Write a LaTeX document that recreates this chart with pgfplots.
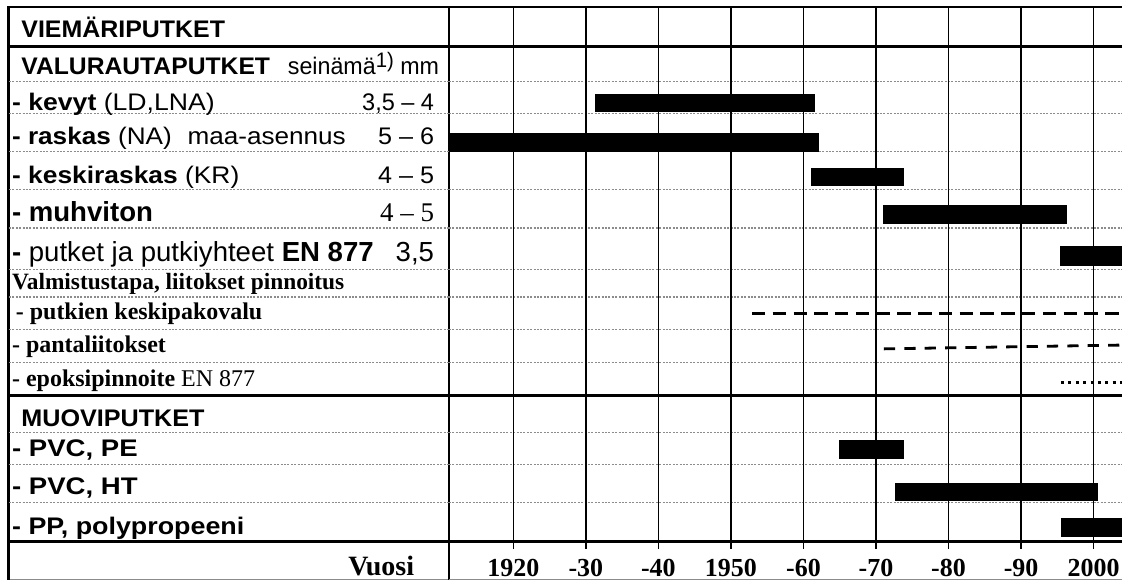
\documentclass[border=0pt]{standalone}
\usepackage{pgfplots}
\pgfplotsset{compat=1.18}
\usepackage{fontspec}
\setmainfont{Liberation Serif}
\newfontfamily\arial{Liberation Sans}
\begin{document}
\begin{tikzpicture}
\pgfplotsset{
  base/.style={scale only axis, hide axis, height=291.5pt, ymin=0, ymax=583,
    y dir=reverse, clip=false, anchor=south west},
}
\tikzset{
  sep/.style={black!45, line width=0.6pt, dash pattern=on 1pt off 0.7pt},
  thk/.style={black, line width=1.3pt},
  vl/.style={black, line width=0.8pt},
  A/.style={anchor=base west, inner sep=0pt, font=\arial\fontsize{12}{14}\selectfont},
  Ae/.style={anchor=base east, inner sep=0pt, font=\arial\fontsize{12}{14}\selectfont},
  AL/.style={anchor=base west, inner sep=0pt, font=\arial\fontsize{13.8}{15}\selectfont},
  ALe/.style={anchor=base east, inner sep=0pt, font=\arial\fontsize{13.8}{15}\selectfont},
  T/.style={anchor=base west, inner sep=0pt, font=\fontsize{12}{14}\selectfont},
  TK/.style={anchor=base, inner sep=0pt, font=\bfseries\fontsize{13}{15}\selectfont},
}
\path (0,0) rectangle (561.5pt,291.5pt);
% ---------------- left label column ----------------
\begin{axis}[base, at={(0,0)}, width=224.65pt, xmin=0, xmax=449.3]
  \draw[black!45, line width=0.6pt] (axis cs:7.3,580) -- (axis cs:449.3,580);
  \draw[line width=1pt] (axis cs:7.3,7.3) -- (axis cs:449.3,7.3);
  \draw[line width=1.5pt] (axis cs:8.3,6.5) -- (axis cs:8.3,581);
  \draw[vl] (axis cs:449.3,7.3) -- (axis cs:449.3,581);
  \pgfplotsinvokeforeach{46.7,396,542.3}{\draw[thk] (axis cs:7.3,#1) -- (axis cs:449.3,#1);}
  \pgfplotsinvokeforeach{81.7,113.3,151.7,190,228.3,270,297.3,330,363.3,433.3,465,503.3}
    {\draw[sep] (axis cs:9,#1) -- (axis cs:449.3,#1);}
  % labels
  \node[A, xscale=1.04] at (axis cs:21,37.3) {\bfseries VIEMÄRIPUTKET};
  \node[A, xscale=1.03] at (axis cs:21,75) {\bfseries VALURAUTAPUTKET};
  \node[Ae, xscale=0.97] at (axis cs:440,75) {seinämä\raisebox{0.55ex}{\fontsize{10.5}{11}\selectfont 1)} mm};
  \node[A, xscale=1.11] at (axis cs:11.7,111) {\textbf{- kevyt} (LD,LNA)};
  \node[Ae, xscale=0.98] at (axis cs:435,111) {3,5 – 4};
  \node[A, xscale=1.09] at (axis cs:11.7,145) {\textbf{- raskas} (NA)\hspace{0.6em}maa-asennus};
  \node[Ae, xscale=1.05] at (axis cs:435,145) {5 – 6};
  \node[A, xscale=1.1] at (axis cs:11.7,183.3) {\textbf{- keskiraskas} (KR)};
  \node[Ae, xscale=1.05] at (axis cs:435,183.3) {4 – 5};
  \node[AL] at (axis cs:11.7,221.7) {\bfseries - muhviton};
  \node[anchor=base east, inner sep=0pt, font=\fontsize{13.5}{15}\selectfont] at (axis cs:435,221.7) {4 – 5};
  \node[AL] at (axis cs:11.7,261.7) {\textbf{-} putket ja putkiyhteet \textbf{EN 877}};
  \node[ALe] at (axis cs:435,261.7) {3,5};
  \node[T, font=\fontsize{11.7}{14}\selectfont] at (axis cs:11.7,290) {\bfseries Valmistustapa, liitokset pinnoitus};
  \node[T] at (axis cs:15.5,320) {\bfseries - putkien keskipakovalu};
  \node[T] at (axis cs:11.7,353.3) {\bfseries - pantaliitokset};
  \node[T] at (axis cs:11.7,386.7) {\textbf{- epoksipinnoite} EN 877};
  \node[A, xscale=1.05] at (axis cs:21,426.7) {\bfseries MUOVIPUTKET};
  \node[A, xscale=1.15] at (axis cs:11.7,456.7) {\bfseries - PVC, PE};
  \node[A, xscale=1.15] at (axis cs:11.7,495) {\bfseries - PVC, HT};
  \node[A, xscale=1.12] at (axis cs:11.7,535) {\bfseries - PP, polypropeeni};
  \node[anchor=base east, inner sep=0pt, font=\bfseries\fontsize{14}{15}\selectfont] at (axis cs:415,576.7) {Vuosi};
\end{axis}
% ---------------- time chart ----------------
\begin{axis}[base, at={(224.65pt,0)}, width=336.85pt, xmin=1911.1, xmax=2003.86]
  \draw[black!45, line width=0.6pt] (axis cs:1911.1,580) -- (axis cs:2003.86,580);
  \draw[line width=1pt] (axis cs:1911.1,7.3) -- (axis cs:2003.86,7.3);
  \pgfplotsinvokeforeach{46.7,396,542.3}{\draw[thk] (axis cs:1911.1,#1) -- (axis cs:2003.86,#1);}
  \pgfplotsinvokeforeach{81.7,113.3,151.7,190,228.3,270,297.3,330,363.3,433.3,465,503.3}
    {\draw[sep] (axis cs:1911.1,#1) -- (axis cs:2003.86,#1);}
  \pgfplotsinvokeforeach{1920,1930,1940,1950,1960,1970,1980,1990,2000}{\draw[vl] (axis cs:#1,7.3) -- (axis cs:#1,550);}
  % bars
  \addplot[fill=black, draw=none] coordinates {(1931.3,94.3) (1961.6,94.3) (1961.6,112.3) (1931.3,112.3)};
  \addplot[fill=black, draw=none] coordinates {(1911.1,132.7) (1962.2,132.7) (1962.2,152) (1911.1,152)};
  \addplot[fill=black, draw=none] coordinates {(1961.0,168.3) (1973.8,168.3) (1973.8,186.7) (1961.0,186.7)};
  \addplot[fill=black, draw=none] coordinates {(1970.9,205.7) (1996.3,205.7) (1996.3,224.3) (1970.9,224.3)};
  \addplot[fill=black, draw=none] coordinates {(1995.3,246.7) (2003.86,246.7) (2003.86,266) (1995.3,266)};
  \addplot[black, line width=1.4pt, dash pattern=on 6.7pt off 3.7pt] coordinates {(1952.9,314) (2003.86,314)};
  \addplot[black, line width=1.4pt, dash pattern=on 5.6pt off 4.6pt] coordinates {(1971.1,349.3) (2003.86,345.5)};
  \addplot[black, line width=1.4pt, dash pattern=on 1.4pt off 2.3pt] coordinates {(1995.5,382.7) (2003.86,382.7)};
  \addplot[fill=black, draw=none] coordinates {(1964.9,440.7) (1973.9,440.7) (1973.9,460) (1964.9,460)};
  \addplot[fill=black, draw=none] coordinates {(1972.6,484) (2000.6,484) (2000.6,502) (1972.6,502)};
  \addplot[fill=black, draw=none] coordinates {(1995.5,518.7) (2003.86,518.7) (2003.86,537.7) (1995.5,537.7)};
  % year labels
  \node[TK] at (axis cs:1920,577) {1920};
  \node[TK] at (axis cs:1930,577) {-30};
  \node[TK] at (axis cs:1940,577) {-40};
  \node[TK] at (axis cs:1950,577) {1950};
  \node[TK] at (axis cs:1960,577) {-60};
  \node[TK] at (axis cs:1970,577) {-70};
  \node[TK] at (axis cs:1980,577) {-80};
  \node[TK] at (axis cs:1990,577) {-90};
  \node[TK] at (axis cs:2000,577) {2000};
\end{axis}
\end{tikzpicture}
\end{document}
